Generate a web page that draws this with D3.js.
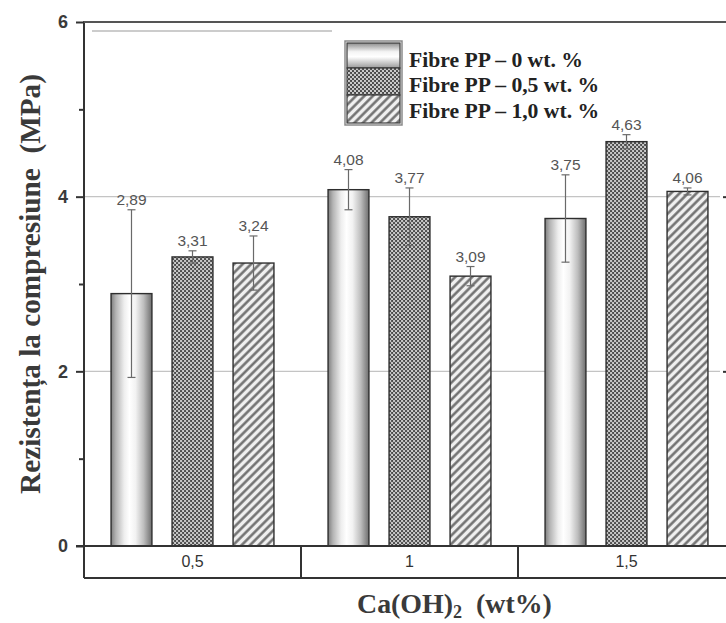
<!DOCTYPE html>
<html>
<head>
<meta charset="utf-8">
<script src="https://cdn.jsdelivr.net/npm/d3@7"></script>
<style>
  html, body { margin: 0; padding: 0; background: #fff; }
  svg { display: block; }
</style>
</head>
<body>
<script>
// ---------------- data ----------------
const categories = ["0,5", "1", "1,5"];
const seriesNames = ["Fibre PP – 0 wt. %", "Fibre PP – 0,5 wt. %", "Fibre PP – 1,0 wt. %"];
const fibre0  = [2.89, 4.08, 3.75];
const fibre05 = [3.31, 3.77, 4.63];
const fibre10 = [3.24, 3.09, 4.06];
const err0  = [0.96, 0.23, 0.50];
const err05 = [0.07, 0.33, 0.08];
const err10 = [0.31, 0.11, 0.04];
const yMajorTicks = [0, 2, 4, 6];
const yMinorTicks = [1, 3, 5];
const yTitle = "Rezistența la compresiune  (MPa)";

const seriesValues = [fibre0, fibre05, fibre10];
const seriesErrors = [err0, err05, err10];
const fills = ["url(#cyl)", "url(#dots)", "url(#hatch)"];
const legendFills = ["url(#cylV)", "url(#dots)", "url(#hatch)"];

const rows = [];
categories.forEach((c, ci) => {
  seriesNames.forEach((s, si) => {
    rows.push({cat: c, series: s, si, value: seriesValues[si][ci], err: seriesErrors[si][ci]});
  });
});

// ---------------- layout ----------------
const W = 726, H = 623;
const pL = 84, pR = 735, pT = 22, pBase = 546, pBox = 578;
const sans = "'Liberation Sans', Arial, sans-serif";
const serif = "'Liberation Serif', 'Times New Roman', serif";

const svg = d3.select("body").append("svg").attr("width", W).attr("height", H);
svg.append("rect").attr("width", W).attr("height", H).attr("fill", "#fff");

// defs
const defs = svg.append("defs");
const cyl = defs.append("linearGradient").attr("id", "cyl").attr("x1", "0").attr("x2", "1").attr("y1", "0").attr("y2", "0");
[[0, "#7e7e7e"], [0.12, "#b4b4b4"], [0.32, "#eeeeee"], [0.45, "#ffffff"], [0.6, "#f2f2f2"], [0.8, "#bdbdbd"], [1, "#6e6e6e"]]
  .forEach(([o, c]) => cyl.append("stop").attr("offset", o).attr("stop-color", c));
const cylV = defs.append("linearGradient").attr("id", "cylV").attr("x1", "0").attr("x2", "0").attr("y1", "0").attr("y2", "1");
[[0, "#8e8e8e"], [0.35, "#f4f4f4"], [0.55, "#ffffff"], [1, "#9a9a9a"]]
  .forEach(([o, c]) => cylV.append("stop").attr("offset", o).attr("stop-color", c));

const dots = defs.append("pattern").attr("id", "dots").attr("patternUnits", "userSpaceOnUse")
  .attr("width", 4).attr("height", 4);
dots.append("rect").attr("width", 4).attr("height", 4).attr("fill", "#474747");
dots.append("circle").attr("cx", 1).attr("cy", 1).attr("r", 1.15).attr("fill", "#d0d0d0");
dots.append("circle").attr("cx", 3).attr("cy", 3).attr("r", 1.15).attr("fill", "#d0d0d0");

const hatch = defs.append("pattern").attr("id", "hatch").attr("patternUnits", "userSpaceOnUse")
  .attr("width", 6).attr("height", 6).attr("patternTransform", "rotate(45)");
hatch.append("rect").attr("width", 6).attr("height", 6).attr("fill", "#f0f0f0");
hatch.append("line").attr("x1", 1.5).attr("x2", 1.5).attr("y1", 0).attr("y2", 6)
  .attr("stroke", "#6a6a6a").attr("stroke-width", 2.4);

// scales
const x0 = d3.scaleBand().domain(categories).range([pL, pR]).paddingInner(0).paddingOuter(0);
const x1 = d3.scaleBand().domain(seriesNames).range([0, x0.bandwidth()]).paddingInner(0.33).paddingOuter(0.4435);
const y = d3.scaleLinear().domain([0, 6]).range([pBase, pT]);

// gridlines
svg.append("g").selectAll("line").data([2, 4]).join("line")
  .attr("x1", pL).attr("x2", 720).attr("y1", d => y(d)).attr("y2", d => y(d))
  .attr("stroke", "#c4c4c4").attr("stroke-width", 1.2);

// faint inner line near top
svg.append("line").attr("x1", 92).attr("x2", 332).attr("y1", 31).attr("y2", 31)
  .attr("stroke", "#9a9a9a").attr("stroke-width", 1.2);

// bars
const fmt = v => d3.format(".2f")(v).replace(".", ",");
const groups = svg.append("g").selectAll("g").data(rows).join("g")
  .attr("transform", d => `translate(${x0(d.cat) + x1(d.series)},0)`);
groups.append("rect")
  .attr("x", 0).attr("width", x1.bandwidth())
  .attr("y", d => y(d.value)).attr("height", d => y(0) - y(d.value))
  .attr("fill", d => fills[d.si]).attr("stroke", "#2e2e2e").attr("stroke-width", 1.4);

// error bars
const bw = x1.bandwidth();
groups.append("line")
  .attr("x1", bw / 2).attr("x2", bw / 2)
  .attr("y1", d => y(d.value + d.err)).attr("y2", d => y(d.value - d.err))
  .attr("stroke", "#6a6a6a").attr("stroke-width", 1.2);
groups.append("line")
  .attr("x1", bw / 2 - 4).attr("x2", bw / 2 + 4)
  .attr("y1", d => y(d.value + d.err)).attr("y2", d => y(d.value + d.err))
  .attr("stroke", "#6a6a6a").attr("stroke-width", 1.2);
groups.append("line")
  .attr("x1", bw / 2 - 4).attr("x2", bw / 2 + 4)
  .attr("y1", d => y(d.value - d.err)).attr("y2", d => y(d.value - d.err))
  .attr("stroke", "#6a6a6a").attr("stroke-width", 1.2);
groups.append("text")
  .attr("x", bw / 2).attr("y", d => y(d.value + d.err) - 5)
  .attr("text-anchor", "middle").attr("font-family", sans).attr("font-size", 15.5)
  .attr("fill", "#555").text(d => fmt(d.value));

// axes frame
const ax = svg.append("g").attr("stroke", "#333").attr("fill", "none");
ax.append("line").attr("x1", pL).attr("x2", pL).attr("y1", pT - 1).attr("y2", pBox).attr("stroke-width", 2);
ax.append("line").attr("x1", pL - 1).attr("x2", W + 5).attr("y1", pT).attr("y2", pT).attr("stroke-width", 2).attr("stroke", "#555");
ax.append("line").attr("x1", pL - 8).attr("x2", W + 5).attr("y1", pBase).attr("y2", pBase).attr("stroke-width", 2);
ax.append("line").attr("x1", pL).attr("x2", W + 5).attr("y1", pBox).attr("y2", pBox).attr("stroke-width", 2);
ax.append("line").attr("x1", pR).attr("x2", pR).attr("y1", pT).attr("y2", pBox).attr("stroke-width", 2);

// y axis ticks via d3 axis
const yAxis = d3.axisLeft(y).tickValues(yMajorTicks).tickSize(8).tickFormat(d3.format("d"));
const yg = svg.append("g").attr("transform", `translate(${pL},0)`).call(yAxis);
yg.select(".domain").remove();
yg.selectAll(".tick line").attr("stroke", "#333").attr("stroke-width", 2);
yg.selectAll(".tick text").attr("font-family", sans).attr("font-size", 18).attr("font-weight", "bold")
  .attr("fill", "#3a3a3a").attr("x", -16);
const yMinor = d3.axisLeft(y).tickValues(yMinorTicks).tickSize(5).tickFormat("");
const ym = svg.append("g").attr("transform", `translate(${pL},0)`).call(yMinor);
ym.select(".domain").remove();
ym.selectAll(".tick line").attr("stroke", "#333").attr("stroke-width", 2);

// right axis ticks (inward)
const yRight = d3.axisLeft(y).tickValues([2, 4]).tickSize(12).tickFormat("");
const yr = svg.append("g").attr("transform", `translate(${pR},0)`).call(yRight);
yr.select(".domain").remove();
yr.selectAll(".tick line").attr("stroke", "#333").attr("stroke-width", 2).attr("x2", -12);

// category box dividers & labels
svg.append("g").selectAll("line").data(categories.slice(1)).join("line")
  .attr("x1", d => x0(d)).attr("x2", d => x0(d)).attr("y1", pBase).attr("y2", pBox)
  .attr("stroke", "#333").attr("stroke-width", 2);
svg.append("g").selectAll("text").data(categories).join("text")
  .attr("x", d => x0(d) + x0.bandwidth() / 2).attr("y", 567)
  .attr("text-anchor", "middle").attr("font-family", sans).attr("font-size", 16)
  .attr("fill", "#333").text(d => d);

// fit text helper
function fitWidth(sel, target) {
  const node = sel.node();
  const fs = parseFloat(sel.attr("font-size"));
  const w = node.getComputedTextLength();
  if (w > 0) sel.attr("font-size", fs * target / w);
}

// x title
const xt = svg.append("text").attr("x", 357).attr("y", 613)
  .attr("font-family", serif).attr("font-size", 22).attr("font-weight", "bold").attr("fill", "#3a3a3a");
xt.append("tspan").text("Ca(OH)");
xt.append("tspan").attr("font-size", "0.65em").attr("dy", 5).text("2");
xt.append("tspan").attr("dy", -5).text("\u00a0\u00a0(wt%)");
fitWidth(xt, 195);

// y title
const ytl = svg.append("text")
  .attr("transform", `translate(40,284) rotate(-90)`)
  .attr("text-anchor", "middle").attr("font-family", serif).attr("font-size", 26)
  .attr("font-weight", "bold").attr("fill", "#3a3a3a")
  .style("white-space", "pre").text(yTitle);
fitWidth(ytl, 420);

// legend
const lg = svg.append("g");
lg.append("rect").attr("x", 345).attr("y", 41).attr("width", 57).attr("height", 84)
  .attr("fill", "none").attr("stroke", "#8a8a8a").attr("stroke-width", 1.5);
const sw = [[43, 25], [68, 27], [95, 28]];
const legendRows = lg.selectAll("g").data(seriesNames).join("g");
legendRows.append("rect")
  .attr("x", 347).attr("width", 53)
  .attr("y", (d, i) => sw[i][0]).attr("height", (d, i) => sw[i][1])
  .attr("fill", (d, i) => legendFills[i]).attr("stroke", "#3a3a3a").attr("stroke-width", 1.2);
const lt = legendRows.append("text")
  .attr("x", 409).attr("y", (d, i) => [67, 92, 118][i])
  .attr("font-family", serif).attr("font-size", 20).attr("font-weight", "bold").attr("fill", "#222")
  .text(d => d);
{
  const first = lt.filter((d, i) => i === 0);
  const w = first.node().getComputedTextLength();
  const k = 174 / w;
  lt.attr("font-size", 20 * k);
}
</script>
</body>
</html>
